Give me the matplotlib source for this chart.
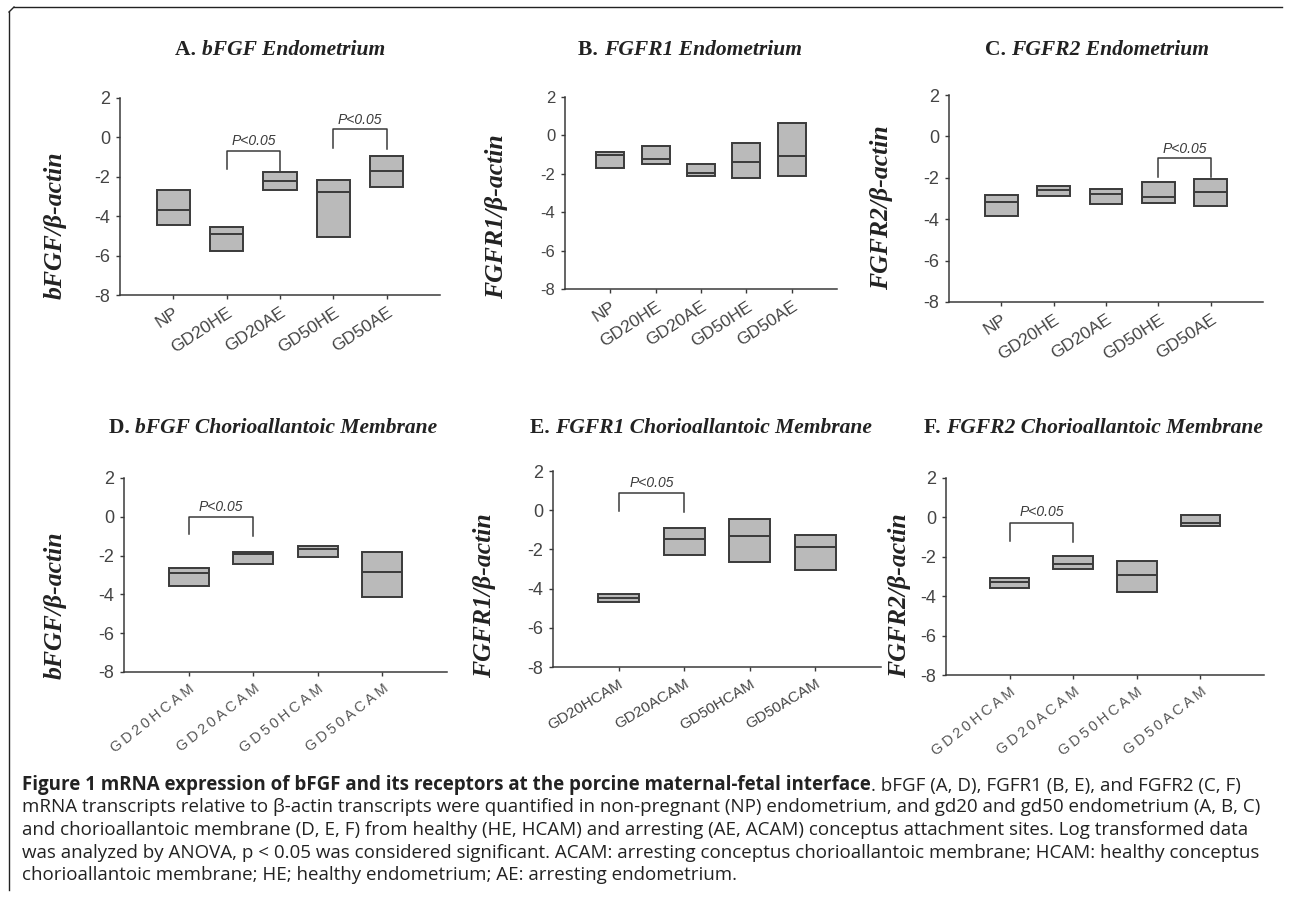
import matplotlib
matplotlib.use("Agg")
from matplotlib import pyplot as plt
from matplotlib.lines import Line2D

# Datos (tope, mediana, fondo de cada caja)
endo_cats = ["NP", "GD20HE", "GD20AE", "GD50HE", "GD50AE"]
cam_cats = ["GD20HCAM", "GD20ACAM", "GD50HCAM", "GD50ACAM"]

a_top = [-2.69, -4.53, -1.78, -2.14, -0.92]
a_med = [-3.71, -4.92, -2.20, -2.76, -1.73]
a_bot = [-4.46, -5.75, -2.68, -5.07, -2.54]

b_top = [-0.89, -0.56, -1.47, -0.42, 0.64]
b_med = [-1.01, -1.24, -1.94, -1.40, -1.05]
b_bot = [-1.68, -1.47, -2.09, -2.23, -2.09]

c_top = [-2.81, -2.42, -2.55, -2.18, -2.08]
c_med = [-3.19, -2.61, -2.76, -2.94, -2.69]
c_bot = [-3.85, -2.89, -3.27, -3.21, -3.35]

d_top = [-2.64, -1.80, -1.51, -1.80]
d_med = [-2.90, -1.93, -1.68, -2.83]
d_bot = [-3.58, -2.42, -2.07, -4.13]

e_top = [-4.26, -0.92, -0.44, -1.28]
e_med = [-4.49, -1.46, -1.33, -1.89]
e_bot = [-4.69, -2.30, -2.63, -3.04]

f_top = [-3.08, -1.98, -2.19, 0.14]
f_med = [-3.27, -2.39, -2.93, -0.29]
f_bot = [-3.56, -2.61, -3.81, -0.42]

# corchetes de significancia: (grupo1, grupo2, altura, pata izq, pata der, texto)
a_sig = [(2, 3, -0.71, -1.61, -1.69, -0.20), (4, 5, 0.42, -0.54, -0.59, 0.86)]
b_sig = []
c_sig = [(4, 5, -1.03, -1.95, -1.98, -0.63)]
d_sig = [(1, 2, 0.0, -0.90, -0.99, 0.52)]
e_sig = [(1, 2, 0.90, -0.02, -0.07, 1.37)]
f_sig = [(1, 2, -0.27, -1.19, -1.25, 0.25)]

yticks = [2, 0, -2, -4, -6, -8]

W, H = 1290, 901
plt.rcParams['axes.unicode_minus'] = False
fig = plt.figure(figsize=(W / 100, H / 100), dpi=100)

GRIS = "#3a3a3a"
SERIF = "Liberation Serif"
SANS = ["Liberation Sans", "DejaVu Sans"]


def caja(x0, y0, x1, y1):
    # pixeles (desde arriba a la izquierda) -> fraccion de la figura
    return [x0 / W, 1 - y1 / H, (x1 - x0) / W, (y1 - y0) / H]


def panel(pos, cats, top, med, bot, sig, rot, xfs, yfs, espaciado=False, xcol="#444444"):
    ax = fig.add_axes(caja(*pos))
    n = len(cats)
    x = list(range(1, n + 1))
    w = 0.62
    alto = [t - b for t, b in zip(top, bot)]
    ax.bar(x, alto, bottom=bot, width=w, color="#bababa", edgecolor=GRIS, linewidth=1.4, zorder=2)
    ax.hlines(med, [i - w / 2 for i in x], [i + w / 2 for i in x], color=GRIS, linewidth=1.4, zorder=3)
    for g1, g2, yt, yl, yr, ytxt in sig:
        ax.plot([g1, g1, g2, g2], [yl, yt, yt, yr], color=GRIS, linewidth=1.1)
        ax.text((g1 + g2) / 2, ytxt, "P<0.05", ha="center", va="center", fontsize=10,
                style="italic", family=SANS, color=GRIS)
    ax.set_xlim(0, n + 1)
    ax.set_ylim(-8, 2)
    ax.set_yticks(yticks)
    ax.set_yticklabels([str(v) for v in yticks], family=SANS, fontsize=yfs, color="#444444")
    ax.set_xticks(x)
    if espaciado:
        etiquetas = ["\u2009".join(c) for c in cats]
    else:
        etiquetas = cats
    ax.set_xticklabels(etiquetas, rotation=rot, ha="right", rotation_mode="anchor",
                       family=SANS, fontsize=xfs, color=xcol)
    ax.spines["top"].set_visible(False)
    ax.spines["right"].set_visible(False)
    for s in ("left", "bottom"):
        ax.spines[s].set_color(GRIS)
        ax.spines[s].set_linewidth(1.1)
    ax.tick_params(axis="both", length=3, color=GRIS, width=1)
    ax.tick_params(axis="x", pad=4)
    ax.tick_params(axis="y", pad=4)
    return ax


panel((120, 98, 440, 295), endo_cats, a_top, a_med, a_bot, a_sig, 33, 12.5, 13)
panel((565, 97, 837, 289), endo_cats, b_top, b_med, b_bot, b_sig, 33, 12.5, 12)
panel((949, 95, 1263, 302), endo_cats, c_top, c_med, c_bot, c_sig, 33, 12.5, 13)
panel((124, 478, 447, 672), cam_cats, d_top, d_med, d_bot, d_sig, 38, 10.5, 13, True, "#555555")
panel((553, 471, 881, 667), cam_cats, e_top, e_med, e_bot, e_sig, 31, 11, 13)
panel((946, 478, 1264, 675), cam_cats, f_top, f_med, f_bot, f_sig, 38, 10.5, 13, True, "#555555")

# titulos (centrados sobre cada panel)
titulos = [
    (280, 50, "A. ", "bFGF Endometrium"),
    (690, 50, "B. ", "FGFR1 Endometrium"),
    (1097, 50, "C. ", "FGFR2 Endometrium"),
    (273, 428, "D. ", "bFGF Chorioallantoic Membrane"),
    (701, 428, "E. ", "FGFR1 Chorioallantoic Membrane"),
    (1093, 428, "F. ", "FGFR2 Chorioallantoic Membrane"),
]
renderer = fig.canvas.get_renderer()
for xc, y0, letra, resto in titulos:
    t1 = fig.text(0, 1 - y0 / H, letra, ha="left", va="center", family=SERIF,
                  weight="bold", fontsize=15.5, color="#222222")
    t2 = fig.text(0, 1 - y0 / H, resto, ha="left", va="center", family=SERIF,
                  weight="bold", style="italic", fontsize=15.5, color="#222222")
    w1 = t1.get_window_extent(renderer).width
    w2 = t2.get_window_extent(renderer).width
    x_ini = xc - (w1 + w2) / 2
    t1.set_x(x_ini / W)
    t2.set_x((x_ini + w1) / W)

# etiquetas del eje y
ylabs = [
    (55, 225, "bFGF/\u03b2-actin"),
    (497, 217, "FGFR1/\u03b2-actin"),
    (882, 208, "FGFR2/\u03b2-actin"),
    (55, 605, "bFGF/\u03b2-actin"),
    (485, 596, "FGFR1/\u03b2-actin"),
    (900, 596, "FGFR2/\u03b2-actin"),
]
for x0, y0, txt in ylabs:
    fig.text(x0 / W, 1 - y0 / H, txt, rotation=90, ha="center", va="center", family=SERIF,
             weight="bold", style="italic", fontsize=18.5, color="#222222")

# marco
fig.add_artist(Line2D([14 / W, 1282 / W], [1 - 7 / H, 1 - 7 / H], color="#222222", linewidth=1))
fig.add_artist(Line2D([9 / W, 9 / W], [1 - 12 / H, 1 - 890 / H], color="#222222", linewidth=1))
fig.add_artist(Line2D([9 / W, 14 / W], [1 - 12 / H, 1 - 7 / H], color="#222222", linewidth=1))

# leyenda de la figura
cap_x = 22
cap_y = 790
paso = 22.5
cap_font = "Open Sans"
cap_fs = 13.5
t = fig.text(cap_x / W, 1 - cap_y / H,
             "Figure 1 mRNA expression of bFGF and its receptors at the porcine maternal-fetal interface",
             ha="left", va="baseline", family=cap_font, weight="bold", fontsize=cap_fs, color="#222222")
fig.add_artist(plt.Annotation(". bFGF (A, D), FGFR1 (B, E), and FGFR2 (C, F)", xy=(1, 0),
                              xycoords=t, va="bottom", ha="left", family=cap_font,
                              fontsize=cap_fs, color="#222222"))
lineas = [
    "mRNA transcripts relative to \u03b2-actin transcripts were quantified in non-pregnant (NP) endometrium, and gd20 and gd50 endometrium (A, B, C)",
    "and chorioallantoic membrane (D, E, F) from healthy (HE, HCAM) and arresting (AE, ACAM) conceptus attachment sites. Log transformed data",
    "was analyzed by ANOVA, p < 0.05 was considered significant. ACAM: arresting conceptus chorioallantoic membrane; HCAM: healthy conceptus",
    "chorioallantoic membrane; HE; healthy endometrium; AE: arresting endometrium.",
]
for i, linea in enumerate(lineas):
    fig.text(cap_x / W, 1 - (cap_y + paso * (i + 1)) / H, linea, ha="left", va="baseline",
             family=cap_font, fontsize=cap_fs, color="#222222")

fig.savefig("out.png", dpi=100)
